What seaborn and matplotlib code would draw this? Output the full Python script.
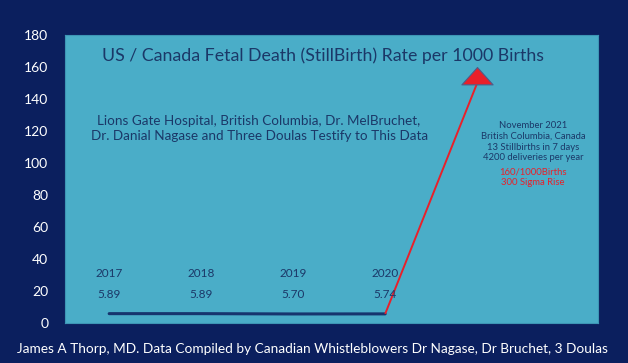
import pandas as pd
import matplotlib.pyplot as plt
import seaborn as sns
from matplotlib.path import Path

# data
years = [2017, 2018, 2019, 2020]
rates = [5.89, 5.89, 5.70, 5.74]
year_2021 = 2021
rate_2021 = 160
yticks = [0, 20, 40, 60, 80, 100, 120, 140, 160, 180]

title = "US / Canada Fetal Death (StillBirth) Rate per 1000 Births"
subtitle = ("Lions Gate Hospital, British Columbia, Dr. MelBruchet,\n"
            "Dr. Danial Nagase and Three Doulas Testify to This Data")
note_lines = ["November 2021", "British Columbia, Canada",
              "13 Stillbirths in 7 days", "4200 deliveries per year"]
note_red = ["160/1000Births", "300 Sigma Rise"]
footer = ("James A Thorp, MD. Data Compiled by Canadian Whistleblowers "
          "Dr Nagase, Dr Bruchet, 3 Doulas")

navy = '#0b1f5e'
panel = '#4aadc8'
ink = '#1b3868'
red = '#e8202a'

sns.set_style('white')
plt.rcParams['font.family'] = ['Lato', 'DejaVu Sans']

df = pd.DataFrame({'year': years, 'rate': rates})

fig = plt.figure(figsize=(6.28, 3.63), dpi=100, facecolor=navy)
ax = fig.add_axes([0.1035, 0.110, 0.849, 0.7934])
ax.set_facecolor(panel)

sns.lineplot(data=df, x='year', y='rate', color='#16356e', linewidth=2.2,
             ax=ax)

# red jump to the 2021 value, upright triangle head with its tip on the point
ax.plot([years[-1], year_2021], [rates[-1], rate_2021 - 10], color=red,
        lw=1.4, solid_capstyle='butt')
tip = Path([(0, 0), (-0.9, -1), (0.9, -1), (0, 0)],
           [Path.MOVETO, Path.LINETO, Path.LINETO, Path.CLOSEPOLY])
ax.plot([year_2021], [rate_2021], marker=tip, markersize=25, color=red,
        markeredgecolor='#4b5f8c', markeredgewidth=0.8, linestyle='none')

for y, r in zip(years, rates):
    ax.text(y, 31, str(y), ha='center', va='center', fontsize=8.5, color=ink)
    ax.text(y, 18, f'{r:.2f}', ha='center', va='center', fontsize=8.5,
            color=ink)

ax.text(0.484, 0.93, title, transform=ax.transAxes, ha='center',
        va='center', fontsize=12.8, color=ink)
ax.text(0.364, 0.675, subtitle, transform=ax.transAxes, ha='center',
        va='center', fontsize=9.7, color=ink, linespacing=1.25)
ax.text(0.878, 0.63, '\n'.join(note_lines), transform=ax.transAxes,
        ha='center', va='center', fontsize=6.8, color=ink, linespacing=1.25)
ax.text(0.878, 0.507, '\n'.join(note_red), transform=ax.transAxes,
        ha='center', va='center', fontsize=6.8, color=red, linespacing=1.25)

ax.set_xlim(2016.52, 2022.315)
ax.set_ylim(0, 180)
ax.set_yticks(yticks)
ax.set_xticks([])
ax.set_xlabel('')
ax.set_ylabel('')
ax.tick_params(axis='y', colors='white', labelsize=10, length=0, pad=12)
for s in ax.spines.values():
    s.set_color('#3d95b5')
    s.set_linewidth(0.8)

fig.text(0.497, 0.0386, footer, ha='center', va='center', fontsize=9.8,
         color='white')

plt.savefig('out.png', dpi=100, facecolor=navy)
